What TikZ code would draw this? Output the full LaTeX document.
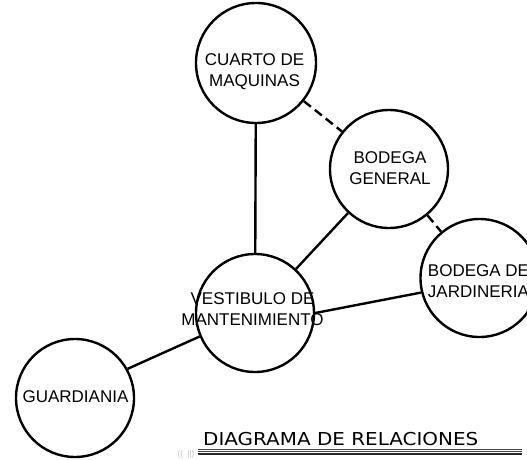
\documentclass[tikz,border=0pt]{standalone}
\usepackage{fontspec}
\setmainfont{Liberation Sans}
\newfontfamily\capfont{DejaVu Sans}
\begin{document}
\begin{tikzpicture}[x=1pt,y=-1pt,
  room/.style={circle,draw=black,line width=2.4pt,minimum size=118pt,inner sep=0pt,fill=white},
  lbl/.style={align=center,font=\fontsize{17}{20.5}\selectfont,inner sep=0pt},
  link/.style={line width=2.4pt,draw=black},
  dlink/.style={line width=2.4pt,draw=black,dash pattern=on 9pt off 5pt}]
\useasboundingbox (0,0) rectangle (527,460);
\path[fill=white] (0,0) rectangle (527,460);
\node[room,minimum size=120pt] (cm) at (256,63) {};
\node[room] (bg) at (389,169) {};
\node[room] (bj) at (479.5,278) {};
\node[room] (vm) at (255,313) {};
\node[room] (gu) at (75,398) {};
\draw[link] (cm) -- (vm);
\draw[dlink] (cm) -- (bg);
\draw[dlink] (bg) -- (bj);
\draw[link] (bg) -- (vm);
\draw[link] (vm.east) -- (bj.194);
\draw[link] (gu.29.5) -- (vm.203.6);
% labels
\node[lbl] (tcm) at (254.5,71.5) {CUARTO DE\\MAQUINAS};
\node[lbl] (tbg) at (390,168) {BODEGA\\GENERAL};
\node[lbl] (tbj) at (478.5,281) {BODEGA DE\\JARDINERIA};
\node[lbl] (tvm) at (252.5,309) {VESTIBULO DE\\MANTENIMIENTO};
\node[lbl] (tgu) at (75.5,397) {GUARDIANIA};
% caption
\node[inner sep=0pt,anchor=south west] (cap) at (203,445.5) {\scalebox{1.12}[1]{\capfont\fontsize{17.8}{20}\selectfont DIAGRAMA DE RELACIONES}};
\draw[line width=0.7pt,black!75] (198,449.5) -- (522,449.5);
\draw[line width=0.7pt,black!75] (198,451.6) -- (522,451.6);
\draw[line width=1.3pt,black!85] (198,454) -- (522,454);
\node[inner sep=0pt,text=black!25,font=\fontsize{8}{8}\selectfont] (mk) at (186,454) {((\ \ ||)};
\end{tikzpicture}
\end{document}
